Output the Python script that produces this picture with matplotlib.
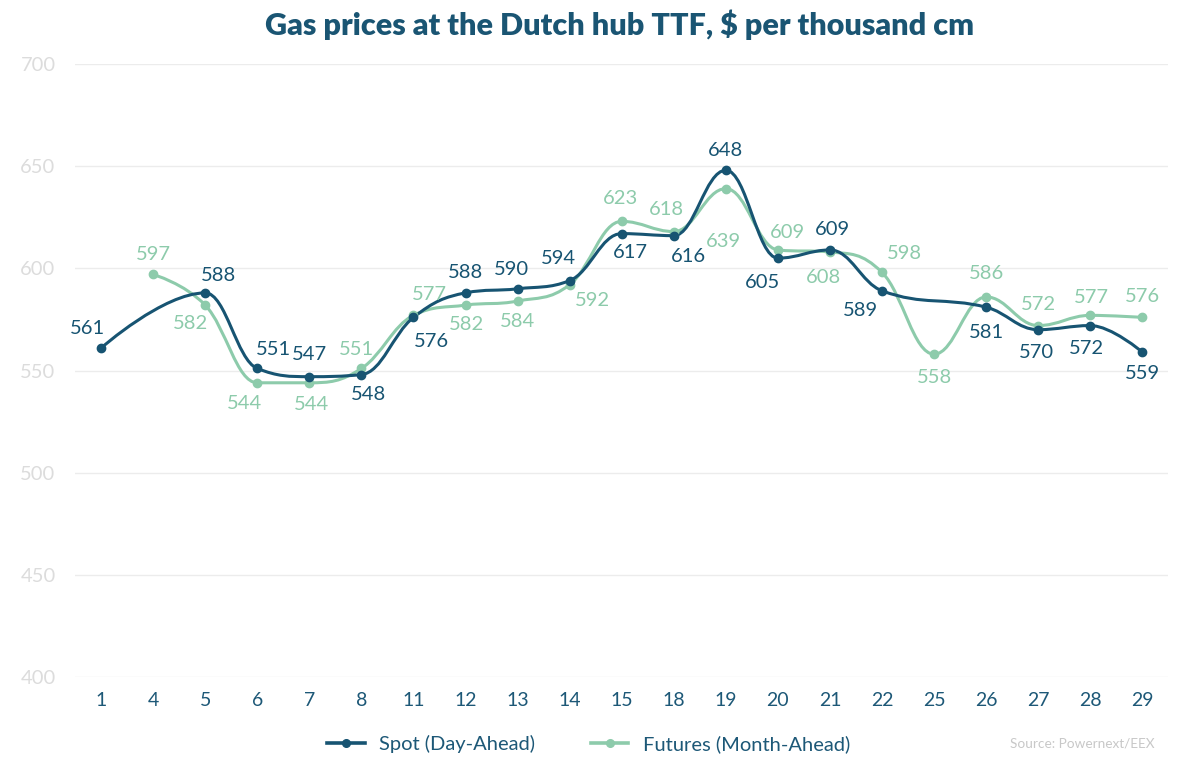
import numpy as np
import matplotlib.pyplot as plt
from matplotlib.path import Path
from matplotlib.patches import PathPatch

plt.rcParams['font.family'] = ['Lato', 'DejaVu Sans']

days = ['1', '4', '5', '6', '7', '8', '11', '12', '13', '14', '15',
        '18', '19', '20', '21', '22', '25', '26', '27', '28', '29']
spot = [561, None, 588, 551, 547, 548, 576, 588, 590, 594, 617,
        616, 648, 605, 609, 589, None, 581, 570, 572, 559]
futures = [None, 597, 582, 544, 544, 551, 577, 582, 584, 592, 623,
           618, 639, 609, 608, 598, 558, 586, 572, 577, 576]

# label nudges in px (dx right, dy down)
spot_dx = [-14, 0, 13, 16, 0, 7, 18, 0, -6, -11, 9,
           15, 0, -15, 2, -22, 0, 0, -2, -4, 0]
spot_dy = [-20, 0, -17, -19, -22, 20, 24, -20, -19, -22, 19,
           21, -20, 24, -20, 20, 0, 25, 23, 23, 21]
fut_dx = [0, 0, -15, -13, 2, -5, 16, 1, 0, 23, -1,
          -7, -2, 10, -6, 22, 0, 0, 0, 1, 0]
fut_dy = [0, -20, 18, 21, 22, -19, -21, 19, 20, 16, -23,
          -22, 53, -17, 25, -19, 23, -23, -21, -18, -21]

SPOT_C = '#175472'
FUT_C = '#8dcbab'
TEXT_C = '#1d5877'


def spline_path(xs, ys, smoothing=1.5):
    # Highcharts-style spline, bezier control points in data space
    n = len(xs)
    left = [(xs[i], ys[i]) for i in range(n)]
    right = [(xs[i], ys[i]) for i in range(n)]
    d = smoothing + 1
    for i in range(1, n - 1):
        x, y = xs[i], ys[i]
        lx, ly = xs[i - 1], ys[i - 1]
        nx, ny = xs[i + 1], ys[i + 1]
        lcx = (smoothing * x + lx) / d
        lcy = (smoothing * y + ly) / d
        rcx = (smoothing * x + nx) / d
        rcy = (smoothing * y + ny) / d
        corr = 0
        if rcx != lcx:
            corr = (rcy - lcy) * (rcx - x) / (rcx - lcx) + y - rcy
        lcy += corr
        rcy += corr
        if lcy > ly and lcy > y:
            lcy = max(ly, y)
            rcy = 2 * y - lcy
        elif lcy < ly and lcy < y:
            lcy = min(ly, y)
            rcy = 2 * y - lcy
        if rcy > ny and rcy > y:
            rcy = max(ny, y)
            lcy = 2 * y - rcy
        elif rcy < ny and rcy < y:
            rcy = min(ny, y)
            lcy = 2 * y - rcy
        left[i] = (lcx, lcy)
        right[i] = (rcx, rcy)
    verts = [(xs[0], ys[0])]
    codes = [Path.MOVETO]
    for i in range(1, n):
        verts += [right[i - 1], left[i], (xs[i], ys[i])]
        codes += [Path.CURVE4] * 3
    return Path(verts, codes)


fig = plt.figure(figsize=(11.82, 7.62), dpi=100)
ax = fig.add_axes([0.0635, 0.1115, 0.925, 0.8045])

for vals, dxs, dys, col in [(futures, fut_dx, fut_dy, FUT_C),
                            (spot, spot_dx, spot_dy, SPOT_C)]:
    xs = [i for i, v in enumerate(vals) if v is not None]
    ys = [v for v in vals if v is not None]
    ax.add_patch(PathPatch(spline_path(xs, ys), fill=False, edgecolor=col,
                           lw=2.2, zorder=3, capstyle='round', joinstyle='round'))
    ax.plot(xs, ys, 'o', color=col, ms=6, zorder=4)
    for x, y in zip(xs, ys):
        ax.annotate(str(y), (x, y), xytext=(dxs[x] * 0.72, -dys[x] * 0.72),
                    textcoords='offset points', ha='center', va='center',
                    fontsize=14.5, color=col, zorder=5)

ax.set_xlim(-0.5, len(days) - 0.5)
ax.set_ylim(400, 700)
ax.set_yticks(range(400, 701, 50))
ax.set_xticks(range(len(days)))
ax.set_xticklabels(days)
ax.grid(axis='y', color='#ececec', lw=1)
ax.set_axisbelow(True)
for sp in ax.spines.values():
    sp.set_visible(False)
ax.tick_params(axis='both', length=0)
ax.tick_params(axis='y', colors='#dcdcdc', labelsize=14.5, pad=14)
ax.tick_params(axis='x', colors=TEXT_C, labelsize=14, pad=11)

fig.text(0.524, 0.968, 'Gas prices at the Dutch hub TTF, $ per thousand cm',
         ha='center', va='center', fontsize=22, fontweight='heavy', color='#1a5573')

h_spot = plt.Line2D([], [], color=SPOT_C, lw=2.6, marker='o', ms=5.5)
h_fut = plt.Line2D([], [], color=FUT_C, lw=2.6, marker='o', ms=5.5)
leg = fig.legend([h_spot, h_fut], ['Spot (Day-Ahead)', 'Futures (Month-Ahead)'],
                 loc='center', bbox_to_anchor=(0.498, 0.024), ncol=2, frameon=False,
                 fontsize=14.5, handlelength=1.85, columnspacing=2.8, handletextpad=0.7)
for t in leg.get_texts():
    t.set_color(TEXT_C)

fig.text(0.977, 0.024, 'Source: Powernext/EEX', ha='right', va='center',
         fontsize=9.8, color='#c8c8c8')

fig.savefig('out.png', dpi=100)
